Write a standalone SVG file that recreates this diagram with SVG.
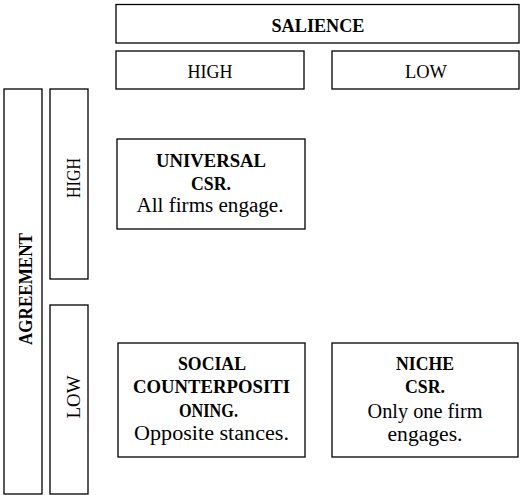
<svg xmlns="http://www.w3.org/2000/svg" width="520" height="495" viewBox="0 0 520 495">
  <style>
    .box { fill: #ffffff; stroke: #000000; stroke-width: 1.3; }
    text { font-family: "Liberation Serif", "DejaVu Serif", serif; fill: #000000; text-anchor: middle; }
    .hd { font-size: 18px; font-weight: bold; }
    .lbl { font-size: 18px; }
    .tb { font-size: 19px; font-weight: bold; }
    .tn { font-size: 20px; }
  </style>
  <rect width="520" height="495" fill="#ffffff"/>

  <!-- column header -->
  <g id="salience">
    <rect class="box" x="116" y="4.5" width="403" height="38.5"/>
    <text class="hd" x="318" y="32" textLength="93" lengthAdjust="spacingAndGlyphs">SALIENCE</text>
  </g>
  <g id="salience-high">
    <rect class="box" x="116" y="51" width="188" height="38"/>
    <text class="lbl" x="210" y="78" textLength="45" lengthAdjust="spacingAndGlyphs">HIGH</text>
  </g>
  <g id="salience-low">
    <rect class="box" x="332" y="51" width="187" height="38"/>
    <text class="lbl" x="426" y="78" textLength="42" lengthAdjust="spacingAndGlyphs">LOW</text>
  </g>

  <!-- row header -->
  <g id="agreement">
    <rect class="box" x="4" y="89" width="38" height="405"/>
    <text class="hd" transform="translate(32,289) rotate(-90)" textLength="112" lengthAdjust="spacingAndGlyphs">AGREEMENT</text>
  </g>
  <g id="agreement-high">
    <rect class="box" x="50" y="89" width="38" height="190"/>
    <text class="lbl" transform="translate(79.5,178) rotate(-90)" textLength="40" lengthAdjust="spacingAndGlyphs">HIGH</text>
  </g>
  <g id="agreement-low">
    <rect class="box" x="50" y="305" width="38" height="189"/>
    <text class="lbl" transform="translate(79.5,397) rotate(-90)" textLength="43" lengthAdjust="spacingAndGlyphs">LOW</text>
  </g>

  <!-- quadrants -->
  <g id="universal-csr">
    <rect class="box" x="117" y="139" width="188" height="90"/>
    <text class="tb" x="211" y="167" textLength="110" lengthAdjust="spacingAndGlyphs">UNIVERSAL</text>
    <text class="tb" x="211" y="190" textLength="40" lengthAdjust="spacingAndGlyphs">CSR.</text>
    <text class="tn" x="210" y="212" textLength="147" lengthAdjust="spacingAndGlyphs">All firms engage.</text>
  </g>
  <g id="social-counterpositioning">
    <rect class="box" x="118" y="343" width="187" height="114"/>
    <text class="tb" x="212" y="370" textLength="68" lengthAdjust="spacingAndGlyphs">SOCIAL</text>
    <text class="tb" x="211.5" y="393" textLength="157" lengthAdjust="spacingAndGlyphs">COUNTERPOSITI</text>
    <text class="tb" x="208.5" y="417" textLength="59" lengthAdjust="spacingAndGlyphs">ONING.</text>
    <text class="tn" x="211.5" y="440" textLength="155" lengthAdjust="spacingAndGlyphs">Opposite stances.</text>
  </g>
  <g id="niche-csr">
    <rect class="box" x="332" y="343" width="186" height="114"/>
    <text class="tb" x="425" y="370" textLength="58" lengthAdjust="spacingAndGlyphs">NICHE</text>
    <text class="tb" x="425" y="393" textLength="40" lengthAdjust="spacingAndGlyphs">CSR.</text>
    <text class="tn" x="425" y="418" textLength="115" lengthAdjust="spacingAndGlyphs">Only one firm</text>
    <text class="tn" x="425" y="441" textLength="75" lengthAdjust="spacingAndGlyphs">engages.</text>
  </g>

  <g id="connectors"/>
</svg>
